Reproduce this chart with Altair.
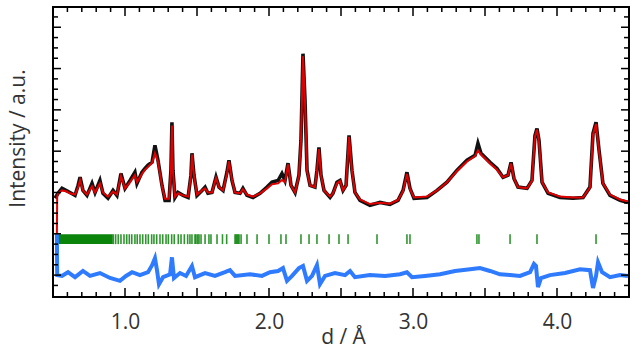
import altair as alt
import pandas as pd

# ---------------- data ----------------
d_grid = [
    0.514, 0.535, 0.5625, 0.590, 0.618, 0.653, 0.674, 0.688, 0.708, 0.736,
    0.771, 0.792, 0.826, 0.847, 0.882, 0.917, 0.944, 0.972, 1.000, 1.035,
    1.069, 1.083, 1.118, 1.139, 1.160, 1.188, 1.208, 1.229, 1.257, 1.278,
    1.306, 1.319, 1.326, 1.333, 1.347, 1.368, 1.403, 1.438, 1.458, 1.465,
    1.479, 1.500, 1.535, 1.556, 1.576, 1.604, 1.632, 1.653, 1.681, 1.708,
    1.722, 1.743, 1.764, 1.799, 1.819, 1.847, 1.889, 1.938, 1.986, 2.021,
    2.063, 2.090, 2.111, 2.132, 2.153, 2.181, 2.208, 2.222, 2.236, 2.250,
    2.264, 2.285, 2.319, 2.333, 2.347, 2.361, 2.382, 2.424, 2.444, 2.472,
    2.493, 2.514, 2.535, 2.556, 2.576, 2.597, 2.632, 2.701, 2.771, 2.840,
    2.896, 2.931, 2.958, 2.979, 3.007, 3.097, 3.167, 3.236, 3.306, 3.375,
    3.431, 3.451, 3.472, 3.535, 3.583, 3.625, 3.660, 3.681, 3.701, 3.729,
    3.792, 3.826, 3.847, 3.861, 3.875, 3.896, 3.938, 4.021, 4.111, 4.181,
    4.229, 4.250, 4.271, 4.292, 4.319, 4.368, 4.438, 4.493,
]

obs_y = [
    1.86, 1.98, 2.10, 2.05, 2.00, 1.93, 2.17, 2.37, 2.05, 1.93,
    2.22, 2.00, 2.29, 1.98, 1.86, 2.05, 1.93, 2.46, 2.10, 2.29,
    2.49, 2.22, 2.49, 2.58, 2.66, 2.73, 3.14, 2.78, 2.17, 1.81,
    1.81, 2.54, 3.70, 2.54, 1.88, 2.00, 1.93, 1.88, 2.42, 2.95,
    2.42, 1.93, 2.05, 2.13, 1.98, 2.00, 2.37, 2.13, 2.05, 2.49,
    2.78, 2.29, 2.00, 1.98, 2.10, 1.93, 1.88, 1.98, 2.13, 2.25,
    2.29, 2.46, 2.29, 2.71, 2.17, 2.00, 2.42, 3.26, 5.36, 4.23,
    2.54, 2.17, 2.13, 2.54, 3.09, 2.42, 2.05, 1.88, 1.98, 2.25,
    2.29, 2.05, 2.17, 3.38, 2.54, 2.00, 1.81, 1.69, 1.76, 1.71,
    1.81, 2.05, 2.49, 2.10, 1.86, 1.88, 2.05, 2.25, 2.54, 2.78,
    2.90, 3.19, 2.95, 2.73, 2.58, 2.37, 2.42, 2.73, 2.34, 2.13,
    2.10, 2.29, 3.38, 3.55, 3.26, 2.25, 1.98, 1.88, 1.86, 1.88,
    2.13, 3.43, 3.70, 3.02, 2.22, 1.93, 1.81, 1.76,
]

# calculated profile: starts with a short vertical foot, then follows d_grid[1:]
calc_d = [0.527, 0.529] + d_grid[1:]
calc_y = [
    1.01, 1.90,
    1.98, 2.05, 2.03, 1.98, 1.95, 2.12, 2.30, 2.05, 1.95,
    2.15, 2.00, 2.22, 2.00, 1.90, 2.02, 1.95, 2.40, 2.10, 2.25,
    2.42, 2.25, 2.45, 2.55, 2.62, 2.72, 2.95, 2.75, 2.15, 1.85,
    1.85, 2.50, 3.62, 2.50, 1.90, 1.98, 1.93, 1.90, 2.40, 2.92,
    2.40, 1.95, 2.05, 2.10, 2.00, 2.00, 2.35, 2.13, 2.05, 2.45,
    2.75, 2.30, 2.00, 1.98, 2.08, 1.95, 1.90, 1.98, 2.10, 2.20,
    2.22, 2.30, 2.25, 2.68, 2.17, 2.00, 2.40, 3.25, 5.30, 4.20,
    2.52, 2.17, 2.13, 2.52, 3.05, 2.42, 2.05, 1.90, 1.98, 2.22,
    2.28, 2.05, 2.17, 3.35, 2.52, 2.00, 1.83, 1.72, 1.75, 1.73,
    1.82, 2.03, 2.45, 2.08, 1.88, 1.90, 2.05, 2.25, 2.52, 2.75,
    2.88, 3.02, 2.92, 2.70, 2.55, 2.37, 2.42, 2.70, 2.34, 2.13,
    2.10, 2.28, 3.35, 3.52, 3.22, 2.25, 2.00, 1.90, 1.88, 1.88,
    2.12, 3.40, 3.66, 3.00, 2.22, 1.95, 1.83, 1.78,
]

diff_d = [
    0.527, 0.529, 0.5625, 0.604, 0.653, 0.708, 0.757, 0.826, 0.896, 0.965,
    1.007, 1.049, 1.104, 1.160, 1.188, 1.208, 1.222, 1.236, 1.264, 1.313,
    1.326, 1.340, 1.382, 1.424, 1.465, 1.486, 1.556, 1.625, 1.694, 1.729,
    1.764, 1.868, 1.951, 2.007, 2.063, 2.097, 2.125, 2.160, 2.208, 2.236,
    2.264, 2.299, 2.333, 2.354, 2.389, 2.458, 2.528, 2.563, 2.597, 2.701,
    2.806, 2.910, 2.958, 2.993, 3.083, 3.188, 3.292, 3.396, 3.465, 3.535,
    3.604, 3.674, 3.743, 3.813, 3.840, 3.854, 3.868, 3.889, 3.951, 4.056,
    4.160, 4.229, 4.250, 4.271, 4.285, 4.313, 4.368, 4.438, 4.493,
]
diff_y = [
    1.01, 0.00, -0.02, 0.07, -0.05, 0.10, -0.02, 0.05, -0.07, -0.14,
    -0.02, 0.07, 0.00, 0.07, 0.24, 0.41, 0.12, -0.22, -0.05, 0.02,
    0.43, -0.07, 0.05, -0.02, 0.22, -0.05, 0.05, -0.02, 0.07, 0.12,
    -0.02, 0.02, -0.02, 0.07, 0.10, 0.17, -0.14, -0.02, 0.17, 0.22,
    -0.14, -0.02, 0.24, -0.22, -0.02, 0.05, 0.00, 0.10, -0.05, 0.00,
    -0.02, 0.02, 0.07, -0.05, -0.02, 0.02, 0.10, 0.14, 0.17, 0.10,
    0.02, 0.00, -0.02, 0.07, 0.27, 0.22, -0.29, -0.07, 0.00, 0.05,
    0.14, 0.12, -0.31, -0.02, 0.31, 0.07, -0.05, 0.00, -0.02,
]

# Bragg reflection positions (individual) and the range where they fully overlap
bragg_d = [
    0.919, 0.935, 0.953, 0.972, 0.993, 1.012, 1.030, 1.047, 1.069, 1.085,
    1.104, 1.123, 1.144, 1.162, 1.185, 1.201, 1.220, 1.243, 1.262, 1.285,
    1.301, 1.324, 1.342, 1.370, 1.389, 1.412, 1.435, 1.451, 1.465, 1.486,
    1.493, 1.505, 1.514, 1.528, 1.556, 1.583, 1.597, 1.639, 1.677, 1.706,
    1.764, 1.771, 1.778, 1.785, 1.792, 1.806, 1.847, 1.917, 2.000, 2.083,
    2.118, 2.222, 2.278, 2.333, 2.417, 2.486, 2.549, 2.750, 2.958, 2.979,
    3.444, 3.458, 3.674, 3.861, 4.271,
]
bragg_band_d = [0.514]
bragg_band_d2 = [0.915]
bragg_low = 0.75
bragg_high = 0.99

x_label_values = [1.0, 2.0, 3.0, 4.0]
x_major_ticks = [1.0, 1.5, 2.0, 2.5, 3.0, 3.5, 4.0]
x_minor_ticks = [round(0.6 + 0.1 * i, 1) for i in range(39)]
x_minor_ticks = [t for t in x_minor_ticks if t not in x_major_ticks]
y_major_ticks = [0, 1, 2, 3, 4, 5, 6]
y_minor_ticks = [t / 4 for t in range(-1, 26) if t % 4 != 0]

# ---------------- chart ----------------
W, H = 576, 290
FONT = "Open Sans"
TXT = "#333333"
FS = 21

xsc = alt.Scale(domain=[0.5, 4.5], nice=False, zero=False)
ysc = alt.Scale(domain=[-0.53, 6.49], nice=False, zero=False)

obs_df = pd.DataFrame({"d": d_grid, "y": obs_y})
calc_df = pd.DataFrame({"d": calc_d, "y": calc_y})
diff_df = pd.DataFrame({"d": diff_d, "y": diff_y})
bragg_df = pd.DataFrame({"d": bragg_d, "y": [bragg_low] * len(bragg_d), "y2": [bragg_high] * len(bragg_d)})
band_df = pd.DataFrame({"d": bragg_band_d, "d2": bragg_band_d2, "y": [bragg_low], "y2": [bragg_high]})

x_axis = alt.Axis(
    values=x_label_values, format=".1f", ticks=False, domain=False, grid=False,
    labelFont=FONT, labelFontSize=FS, labelColor=TXT, labelPadding=31,
    labelBaseline="alphabetic", labelFlush=False,
    title="d / Å", titleFont=FONT, titleFontSize=FS, titleFontWeight="normal",
    titleColor=TXT, titleX=290, titleY=46, titleAlign="center",
    titleBaseline="alphabetic",
)
y_axis = alt.Axis(
    labels=False, ticks=False, domain=False, grid=False,
    title="Intensity / a.u.", titleFont=FONT, titleFontSize=FS,
    titleFontWeight="normal", titleColor=TXT, titleX=-35, titleY=131,
    titleAngle=270, titleAlign="center", titleBaseline="middle",
)

X = alt.X("d:Q", scale=xsc, axis=x_axis, title="d / Å")
Y = alt.Y("y:Q", scale=ysc, axis=y_axis, title="Intensity / a.u.")

obs = alt.Chart(obs_df).mark_line(color="#111111", strokeWidth=3.6, clip=True).encode(x=X, y=Y)
calc = alt.Chart(calc_df).mark_line(color="#e00000", strokeWidth=2.0, clip=True).encode(x=X, y=Y)
diff = alt.Chart(diff_df).mark_line(color="#2f7bff", strokeWidth=4.0, clip=True).encode(x=X, y=Y)
band = alt.Chart(band_df).mark_rect(color="#0b840b").encode(x=X, x2="d2:Q", y=Y, y2="y2:Q")
bragg = alt.Chart(bragg_df).mark_rule(color="#0b840b", strokeWidth=1.6, opacity=0.85).encode(
    x=X, y=Y, y2="y2:Q")

def xticks(vals, length):
    df = pd.DataFrame({"d": vals})
    bot = alt.Chart(df).mark_rule(color="black", strokeWidth=1.5).encode(
        x=X, y=alt.value(H), y2=alt.value(H - length))
    top = alt.Chart(df).mark_rule(color="black", strokeWidth=1.5).encode(
        x=X, y=alt.value(0), y2=alt.value(length))
    return [bot, top]

def yticks(vals, length):
    df = pd.DataFrame({"y": vals})
    left = alt.Chart(df).mark_rule(color="black", strokeWidth=1.5).encode(
        y=Y, x=alt.value(0), x2=alt.value(length))
    right = alt.Chart(df).mark_rule(color="black", strokeWidth=1.5).encode(
        y=Y, x=alt.value(W), x2=alt.value(W - length))
    return [left, right]

tick_layers = (xticks(x_major_ticks, 9) + xticks(x_minor_ticks, 5)
               + yticks(y_major_ticks, 8) + yticks(y_minor_ticks, 5))

chart = alt.layer(band, bragg, diff, obs, calc, *tick_layers).properties(
    width=W, height=H,
    autosize=alt.AutoSizeParams(type="none"),
    padding={"left": 53, "top": 7, "right": 15, "bottom": 55},
).configure_view(stroke="black", strokeWidth=2)

chart.save("out.html", embed_options={"renderer": "svg", "actions": False})
